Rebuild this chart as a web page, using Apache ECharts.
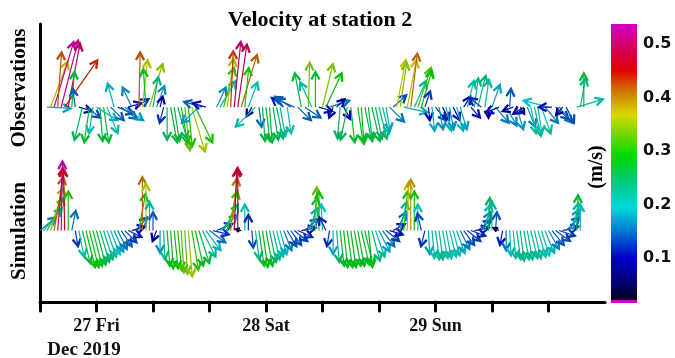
<!DOCTYPE html>
<html>
<head>
<meta charset="utf-8">
<script src="https://cdn.jsdelivr.net/npm/echarts@6/dist/echarts.min.js"></script>
</head>
<body style="margin:0">
<div id="chart" style="width:675px;height:358px"></div>
<script>
// hours since 26 Dec 2019 16:00, one sample every 30 min
var hours = [
  0,0.5,1,1.5,2,2.5,3,3.5,4,4.5,
  5,5.5,6,6.5,7,7.5,8,8.5,9,9.5,
  10,10.5,11,11.5,12,12.5,13,13.5,14,14.5,
  15,15.5,16,16.5,17,17.5,18,18.5,19,19.5,
  20,20.5,21,21.5,22,22.5,23,23.5,24,24.5,
  25,25.5,26,26.5,27,27.5,28,28.5,29,29.5,
  30,30.5,31,31.5,32,32.5,33,33.5,34,34.5,
  35,35.5,36,36.5,37,37.5,38,38.5,39,39.5,
  40,40.5,41,41.5,42,42.5,43,43.5,44,44.5,
  45,45.5,46,46.5,47,47.5,48,48.5,49,49.5,
  50,50.5,51,51.5,52,52.5,53,53.5,54,54.5,
  55,55.5,56,56.5,57,57.5,58,58.5,59,59.5,
  60,60.5,61,61.5,62,62.5,63,63.5,64,64.5,
  65,65.5,66,66.5,67,67.5,68,68.5,69,69.5,
  70,70.5,71,71.5,72,72.5,73,73.5,74,74.5,
  75,75.5,76,76.5,77,77.5,78,78.5,79,79.5
];

// observed velocity (m/s): east and north components
var obsU = [
  null,null,.18,.13,.15,.03,.13,.25,.09,.02,
  -.02,.1,-.06,.11,-.04,-.03,.16,.02,.04,.08,
  .1,-.05,.12,.12,.14,.1,-.07,.1,.01,.04,
  -.02,.1,.04,.06,.02,-.03,0,.05,.04,.07,
  .05,.04,.03,.1,.13,-.13,-.14,-.1,null,null,
  .07,.12,.08,.05,.02,.05,.07,.12,.03,.07,
  -.04,-.15,.02,.02,.03,.02,.04,.05,.04,-.09,
  .03,-.12,-.13,.1,-.05,.12,.01,-.09,0,.1,
  .08,.12,.15,-.03,.06,-.02,.05,-.05,.03,null,
  .04,.02,.05,.03,.06,.05,.06,.05,.03,.11,
  .1,.07,.05,.18,.07,.05,.09,.1,.08,.04,
  .01,.02,.08,.03,.05,.04,.03,.05,.05,.05,
  .05,.05,.07,.03,.06,-.09,.03,0,.06,.1,
  -.1,null,.08,.01,-.08,.05,.03,-.08,.06,.04,
  .05,.03,.07,.1,-.19,-.1,.1,.1,-.05,.06,
  null,null,.2,.04,0,null,null,null,null,null
];
var obsV = [
  null,null,-.01,.35,.5,.42,.51,.36,.49,.27,
  .14,-.03,-.25,-.08,-.27,-.2,-.1,-.26,-.27,-.2,
  -.1,.18,-.05,-.09,-.1,.03,.15,.06,.42,.36,
  .29,.33,.23,.16,.08,-.12,-.25,-.27,-.26,-.24,
  -.28,-.33,-.3,-.34,-.27,-.12,.04,.03,null,null,
  .15,.2,.3,.37,.43,.5,.48,.4,.3,.19,
  -.07,-.15,-.15,-.26,-.26,-.27,-.25,-.24,-.22,.07,
  -.2,.08,.06,-.1,.26,-.08,.34,.19,.27,-.03,
  .33,.26,.05,-.08,.06,-.24,-.09,-.25,-.27,null,
  -.27,-.28,-.25,-.26,-.26,-.24,-.24,-.2,-.18,-.11,
  .09,.36,.34,-.04,.36,.41,.2,.3,.28,.12,
  -.1,-.18,-.1,-.17,-.1,-.18,-.17,-.1,-.18,-.17,
  .08,.2,-.08,.22,.24,.07,.21,-.08,.17,-.12,
  -.04,null,-.14,.14,-.03,-.17,-.05,-.05,-.15,-.2,
  -.22,-.2,-.2,-.12,.05,0,-.09,-.12,-.06,-.12,
  null,null,.06,.22,.26,null,null,null,null,null
];

// simulated velocity (m/s): east and north components
var simU = [
  .12,.14,.13,.10,.07,.04,.01,-.01,0,.03,
  .02,.04,.06,.07,.07,.07,.07,.07,.07,.07,
  .07,.07,.07,.08,.09,.10,.10,.09,.05,0,
  0,0,0,-.03,0,.01,.02,.02,.03,.03,
  .02,.02,.03,.05,.06,.08,.10,.11,.12,.12,
  .12,.13,.11,.08,.05,.02,0,-.04,0,0,
  .01,.03,.04,.04,.05,.05,.05,.05,.05,.06,
  .07,.08,.10,.11,.11,.10,.07,.04,.01,0,
  -.01,-.05,-.02,0,.02,.03,.03,.04,.04,.05,
  .05,.06,.06,.03,.06,.07,.08,.09,.10,.10,
  .09,.07,.05,.03,.01,0,0,0,-.03,-.03,
  .01,.02,.03,.03,.04,.04,.05,.05,.06,.07,
  .08,.10,.11,.11,.10,.07,.04,.01,0,.01,
  -.04,-.02,0,.01,.02,.03,.03,.04,.04,.05,
  .05,.06,.06,.07,.08,.09,.11,.12,.12,.10,
  .07,.04,.01,0,null,null,null,null,null,null
];
var simV = [
  .10,.17,.25,.33,.41,.48,.53,.47,.30,.15,
  -.12,-.2,-.25,-.28,-.28,-.27,-.26,-.24,-.22,-.2,
  -.18,-.16,-.14,-.12,-.09,-.05,.03,.10,.28,.41,
  .36,.22,.14,-.08,-.17,-.22,-.27,-.29,-.29,-.3,
  -.32,-.33,-.35,-.3,-.27,-.25,-.2,-.15,-.09,-.03,
  .05,.12,.2,.3,.4,.47,.48,.01,.2,.12,
  -.13,-.22,-.27,-.28,-.27,-.24,-.22,-.2,-.18,-.15,
  -.12,-.11,-.08,-.05,.02,.09,.17,.25,.33,.3,
  .2,.1,-.12,-.18,-.24,-.27,-.28,-.28,-.28,-.27,
  -.27,-.26,-.26,-.28,-.23,-.2,-.16,-.12,-.08,-.03,
  .05,.14,.22,.3,.37,.39,.3,.2,.13,-.12,
  -.18,-.21,-.22,-.22,-.21,-.21,-.2,-.19,-.17,-.14,
  -.11,-.08,-.04,.02,.08,.14,.2,.25,.22,.14,
  .02,-.11,-.15,-.19,-.21,-.22,-.23,-.22,-.22,-.21,
  -.21,-.2,-.19,-.17,-.14,-.11,-.08,-.04,.03,.1,
  .16,.21,.27,.2,null,null,null,null,null,null
];

var tickHours = [0, 8, 16, 24, 32, 40, 48, 56, 64, 72];
var labelHours = [8, 32, 56];
var labelText = ['27 Fri', '28 Sat', '29 Sun'];
var barTicks = [0.1, 0.2, 0.3, 0.4, 0.5];

var OBS_BASE = 1.5, SIM_BASE = 0.55;
var VMIN = 0.0215, VMAX = 0.537;
var cmap = [
  [0.0215, '#000010'], [0.05, '#00006a'], [0.1, '#0000c8'], [0.15, '#0078d0'],
  [0.195, '#00d8d8'], [0.245, '#00c878'], [0.29, '#00d800'], [0.367, '#d8d800'],
  [0.414, '#d07000'], [0.451, '#e00000'], [0.5, '#d4006e'], [0.537, '#d200c8']
];
var SERIF = '"Liberation Serif", "Times New Roman", serif';

function hexRgb(h) {
  return [parseInt(h.substr(1, 2), 16), parseInt(h.substr(3, 2), 16), parseInt(h.substr(5, 2), 16)];
}
// colour of a speed on the colour bar, a little darker for thin lines
function speedColor(s, shade) {
  var rgb;
  if (s <= cmap[0][0]) rgb = hexRgb(cmap[0][1]);
  else if (s >= cmap[cmap.length - 1][0]) rgb = hexRgb(cmap[cmap.length - 1][1]);
  else {
    for (var i = 1; i < cmap.length; i++) {
      if (s <= cmap[i][0]) {
        var a = cmap[i - 1], b = cmap[i], t = (s - a[0]) / (b[0] - a[0]);
        var ca = hexRgb(a[1]), cb = hexRgb(b[1]);
        rgb = [0, 1, 2].map(function (j) { return ca[j] + (cb[j] - ca[j]) * t; });
        break;
      }
    }
  }
  return 'rgb(' + rgb.map(function (c) { return Math.round(c * shade); }).join(',') + ')';
}

function toItems(U, V) {
  var out = [];
  for (var i = 0; i < hours.length; i++) {
    if (U[i] == null) continue;
    out.push([hours[i], U[i], V[i], Math.sqrt(U[i] * U[i] + V[i] * V[i])]);
  }
  return out;
}

function arrows(base) {
  return function (params, api) {
    var p0 = api.coord([api.value(0), base]);
    var k = api.size([0, 1])[1]; // pixels per m/s
    var x1 = p0[0] + api.value(1) * k, y1 = p0[1] - api.value(2) * k;
    var dx = x1 - p0[0], dy = y1 - p0[1];
    var len = Math.sqrt(dx * dx + dy * dy);
    var ang = Math.atan2(dy, dx);
    var h = Math.min(8.5, len * 0.75), a = 0.5;
    var col = speedColor(api.value(3), 0.88);
    return {
      type: 'group',
      children: [
        { type: 'line', shape: { x1: p0[0], y1: p0[1], x2: x1, y2: y1 },
          style: { stroke: col, lineWidth: 1.2 } },
        { type: 'polyline',
          shape: { points: [
            [x1 - h * Math.cos(ang - a), y1 - h * Math.sin(ang - a)],
            [x1, y1],
            [x1 - h * Math.cos(ang + a), y1 - h * Math.sin(ang + a)]
          ] },
          style: { stroke: col, lineWidth: 2.3, fill: null, lineJoin: 'miter' } }
      ]
    };
  };
}

var chart = echarts.init(document.getElementById('chart'));
chart.setOption({
  animation: false,
  grid: [
    { left: 40, right: 70, top: 24, bottom: 56 },
    { left: 611, top: 24, width: 26, height: 276 }
  ],
  xAxis: [{
    type: 'value', min: 0, max: 80,
    axisLine: { lineStyle: { color: '#000', width: 3, cap: 'round' } },
    axisTick: { customValues: tickHours, length: 9, lineStyle: { color: '#000', width: 3, cap: 'round' } },
    axisLabel: {
      customValues: labelHours, margin: 15,
      formatter: function (v) { return labelText[labelHours.indexOf(v)] || ''; },
      fontFamily: SERIF, fontWeight: 'bold', fontSize: 18, color: '#111'
    },
    splitLine: { show: false }
  }, {
    gridIndex: 1, type: 'value', min: 0, max: 1, show: false
  }],
  yAxis: [{
    type: 'value', min: 0, max: 2.14,
    axisLine: { show: true, lineStyle: { color: '#000', width: 3 } },
    axisTick: { show: false }, axisLabel: { show: false }, splitLine: { show: false }
  }, {
    gridIndex: 1, type: 'value', min: VMIN, max: VMAX, position: 'right',
    axisLine: { show: false }, axisTick: { show: false }, splitLine: { show: false },
    axisLabel: {
      customValues: barTicks, margin: 6,
      formatter: function (v) { return v.toFixed(1); },
      fontFamily: 'DejaVu Sans', fontWeight: 'bold', fontSize: 16, color: '#111'
    }
  }],
  series: [{
    type: 'custom', silent: true,
    renderItem: arrows(OBS_BASE),
    data: toItems(obsU, obsV)
  }, {
    type: 'custom', silent: true,
    renderItem: arrows(SIM_BASE),
    data: toItems(simU, simV)
  }, {
    type: 'custom', silent: true, xAxisIndex: 1, yAxisIndex: 1,
    renderItem: function (params, api) {
      var top = api.coord([0, VMAX]), bot = api.coord([1, VMIN]);
      return {
        type: 'rect',
        shape: { x: top[0], y: top[1], width: bot[0] - top[0], height: bot[1] - top[1] },
        style: { fill: { type: 'linear', x: 0, y: 0, x2: 0, y2: 1,
          colorStops: cmap.map(function (c) {
            return { offset: (VMAX - c[0]) / (VMAX - VMIN), color: c[1] };
          }).reverse() } }
      };
    },
    data: [[0, VMIN]]
  }],
  graphic: [
    { type: 'text', x: 320, y: 20, style: { text: 'Velocity at station 2', font: 'bold 22px ' + SERIF, fill: '#000', align: 'center', verticalAlign: 'middle' } },
    { type: 'text', x: 20, y: 88, rotation: Math.PI / 2, style: { text: 'Observations', font: 'bold 21px ' + SERIF, fill: '#000', align: 'center', verticalAlign: 'middle' } },
    { type: 'text', x: 20, y: 231, rotation: Math.PI / 2, style: { text: 'Simulation', font: 'bold 21px ' + SERIF, fill: '#000', align: 'center', verticalAlign: 'middle' } },
    { type: 'text', x: 597, y: 167, rotation: Math.PI / 2, style: { text: '(m/s)', font: 'bold 20px ' + SERIF, fill: '#000', align: 'center', verticalAlign: 'middle' } },
    { type: 'text', x: 84, y: 350, style: { text: 'Dec 2019', font: 'bold 19px ' + SERIF, fill: '#111', align: 'center', verticalAlign: 'middle' } },
    { type: 'rect', shape: { x: 611, y: 300, width: 26, height: 3 }, style: { fill: '#d200c8' } }
  ]
});
</script>
</body>
</html>
